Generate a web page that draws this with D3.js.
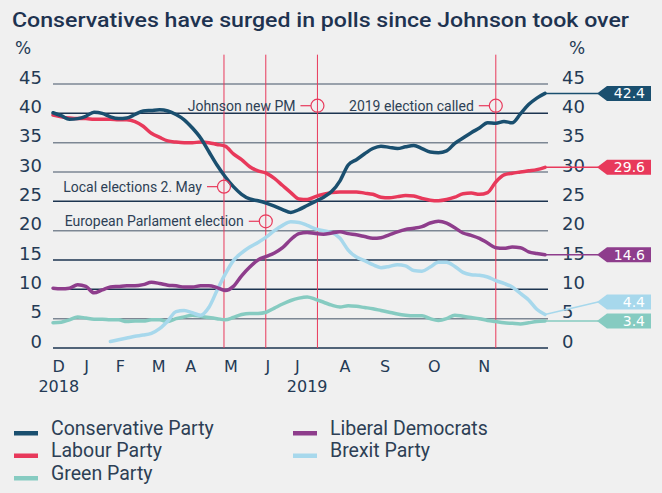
<!DOCTYPE html>
<html>
<head>
<meta charset="utf-8">
<script src="https://cdn.jsdelivr.net/npm/d3@7"></script>
<style>
  html, body { margin: 0; padding: 0; background: #f0f0f0; }
  svg { display: block; }
  text { fill: #243a55; }
</style>
</head>
<body>
<svg id="chart" width="662" height="493"></svg>
<script>
// Poll averages, one point per sample step (Dec 2018 -> early Dec 2019)
const conservative = [40.1, 39.6, 39.0, 39.1, 39.5, 40.2, 40.0, 39.4, 39.1, 39.2, 39.8, 40.4, 40.5, 40.6, 40.4, 39.8,
  38.9, 37.5, 35.8, 33.5, 31.2, 29.2, 27.5, 26.2, 25.4, 25.1, 24.7, 24.2, 23.6, 23.1, 23.6, 24.3, 25.0, 25.7, 26.7,
  28.5, 31.2, 32.1, 33.1, 34.0, 34.4, 34.2, 34.0, 34.3, 34.5, 34.0, 33.4, 33.3, 33.6, 34.9, 35.8, 36.7, 37.5, 38.4,
  38.3, 38.6, 38.4, 39.9, 41.5, 42.6, 43.4];
const labour = [39.7, 39.4, 39.2, 39.1, 39.1, 39.0, 39.0, 39.0, 38.9, 38.9, 38.6, 37.8, 36.6, 35.9, 35.3, 35.1,
  35.0, 35.0, 35.1, 35.0, 34.7, 34.4, 33.1, 32.1, 30.9, 30.2, 29.8, 28.9, 27.7, 26.5, 25.4, 25.3, 25.8, 26.2, 26.5,
  26.6, 26.6, 26.6, 26.4, 26.2, 25.7, 25.6, 25.8, 26.0, 25.9, 25.5, 25.2, 25.1, 25.3, 25.7, 26.3, 26.4, 26.2, 26.5,
  28.3, 29.5, 29.8, 30.0, 30.2, 30.4, 30.8];
const libDems = [10.2, 10.1, 10.2, 10.8, 10.5, 9.4, 9.9, 10.4, 10.5, 10.6, 10.6, 10.8, 11.2, 11.0, 10.7, 10.6,
  10.4, 10.4, 10.6, 10.6, 10.3, 9.8, 10.5, 12.3, 13.8, 15.0, 15.6, 16.2, 17.1, 18.5, 19.5, 19.7, 19.5, 19.4, 19.6,
  19.8, 19.5, 19.3, 19.0, 18.7, 18.8, 19.3, 19.8, 20.2, 20.4, 20.7, 21.3, 21.6, 21.3, 20.5, 19.6, 19.2, 18.7, 17.9,
  17.1, 17.0, 17.2, 17.1, 16.4, 16.1, 15.9];
const brexit = [null, null, null, null, null, null, null, 1.1, 1.4, 1.7, 2.0, 2.2, 2.5, 3.3, 4.6, 6.2,
  6.4, 6.0, 5.6, 6.9, 9.8, 12.6, 14.9, 16.2, 17.2, 18.0, 18.9, 20.0, 20.9, 21.5, 21.4, 20.9, 20.3, 20.0, 19.7,
  18.7, 16.7, 15.5, 14.9, 14.2, 13.7, 13.9, 14.2, 14.0, 13.2, 13.1, 13.8, 14.6, 14.6, 13.9, 12.9, 12.5, 12.4, 12.1,
  11.5, 11.0, 10.4, 9.3, 8.2, 6.6, 5.7];
const green = [4.3, 4.4, 4.8, 5.3, 5.1, 4.9, 4.9, 4.8, 4.8, 4.5, 4.6, 4.6, 4.8, 4.8, 4.5, 5.0,
  5.3, 5.6, 5.4, 5.2, 5.0, 4.8, 5.2, 5.7, 5.9, 5.9, 6.1, 6.8, 7.5, 8.1, 8.5, 8.7, 8.3, 7.8, 7.3,
  7.0, 7.2, 7.1, 6.9, 6.7, 6.4, 6.1, 5.8, 5.6, 5.5, 5.5, 5.0, 4.7, 5.0, 5.6, 5.4, 5.2, 5.0, 4.7,
  4.5, 4.3, 4.2, 4.1, 4.3, 4.5, 4.6];

const partyNames = ["Conservative Party", "Labour Party", "Green Party", "Liberal Democrats", "Brexit Party"];
const partyColors = ["#1a4f6f", "#e8395b", "#86cbc1", "#8e3d8c", "#a7d8ec"];
const partyValues = [conservative, labour, green, libDems, brexit];
const latest = ["42.4", "29.6", "3.4", "14.6", "4.4"];

const months = ["D", "J", "F", "M", "A", "M", "J", "J", "A", "S", "O", "N"];
const monthAt = [0.7, 4.1, 8.2, 12.9, 16.8, 21.7, 26.2, 29.8, 35.6, 40.5, 46.5, 52.6];
const years = ["2018", "2019"];
const yearAt = [0.7, 31.0];

const yTicks = [0, 5, 10, 15, 20, 25, 30, 35, 40, 45];
const darkTicks = [0, 10, 15, 25, 40];

// events: position on the sample axis, label, height of the marker (in %)
const eventAt = [20.85, 25.95, 32.25, 54.0];
const eventText = ["Local elections 2. May", "European Parlament election", "Johnson new PM", "2019 election called"];
const eventLevel = [27.5, 21.6, 41.3, 41.3];

const svg = d3.select("#chart");
const font = "Roboto, 'DejaVu Sans', sans-serif";
const numFont = "'DejaVu Sans', sans-serif";

const x = d3.scaleLinear().domain([0, conservative.length - 1]).range([53, 545]);
const y = d3.scaleLinear().domain([0, 45]).range([348, 84]);

// title
svg.append("text")
  .attr("x", 12).attr("y", 27)
  .attr("font-family", font).attr("font-weight", 500).attr("font-size", 21)
  .attr("textLength", 617).attr("lengthAdjust", "spacingAndGlyphs")
  .style("fill", "#1e3350")
  .text("Conservatives have surged in polls since Johnson took over");

// grid lines
svg.append("g")
  .selectAll("line")
  .data(yTicks)
  .join("line")
  .attr("x1", 53).attr("x2", 548)
  .attr("y1", d => y(d)).attr("y2", d => y(d))
  .attr("stroke", d => darkTicks.includes(d) ? "#1c3450" : "#7d8794")
  .attr("stroke-width", 1.5);

// axis labels both sides
const leftAxis = svg.append("g").attr("transform", "translate(42,0)")
  .call(d3.axisLeft(y).tickValues(yTicks).tickSize(0).tickPadding(0));
const rightAxis = svg.append("g").attr("transform", "translate(562,0)")
  .call(d3.axisRight(y).tickValues(yTicks).tickSize(0).tickPadding(0));
[leftAxis, rightAxis].forEach(a => {
  a.select(".domain").remove();
  a.selectAll("text")
    .attr("font-family", numFont).attr("font-size", 18)
    .attr("dy", "-0.05em")
    .style("fill", "#243a55");
});
svg.append("text").attr("x", 15).attr("y", 54)
  .attr("font-family", numFont).attr("font-size", 17).text("%");
svg.append("text").attr("x", 569).attr("y", 54)
  .attr("font-family", numFont).attr("font-size", 17).text("%");

// month & year labels
svg.append("g")
  .selectAll("text")
  .data(months)
  .join("text")
  .attr("x", (d, i) => x(monthAt[i]))
  .attr("y", 372)
  .attr("text-anchor", "middle")
  .attr("font-family", numFont).attr("font-size", 16)
  .text(d => d);
svg.append("g")
  .selectAll("text")
  .data(years)
  .join("text")
  .attr("x", (d, i) => x(yearAt[i]))
  .attr("y", 392)
  .attr("text-anchor", "middle")
  .attr("font-family", numFont).attr("font-size", 16)
  .text(d => d);

// event lines
svg.append("g")
  .selectAll("line")
  .data(eventAt)
  .join("line")
  .attr("x1", d => x(d)).attr("x2", d => x(d))
  .attr("y1", y(50)).attr("y2", y(0))
  .attr("stroke", "#e8395b").attr("stroke-width", 1);

// series
const line = d3.line()
  .defined(d => d != null)
  .x((d, i) => x(i))
  .y(d => y(d))
  .curve(d3.curveMonotoneX);

const drawOrder = [2, 4, 3, 1, 0];
svg.append("g")
  .selectAll("path")
  .data(drawOrder)
  .join("path")
  .attr("d", k => line(partyValues[k]))
  .attr("fill", "none")
  .attr("stroke", k => partyColors[k])
  .attr("stroke-width", 3.5)
  .attr("stroke-linejoin", "round")
  .attr("stroke-linecap", "round");

// event markers (on top of lines)
const ev = svg.append("g").selectAll("g")
  .data(eventAt)
  .join("g")
  .attr("transform", (d, i) => `translate(${x(d)},${y(eventLevel[i])})`);
ev.append("line")
  .attr("x1", -17).attr("x2", -6.5)
  .attr("stroke", "#e8395b").attr("stroke-width", 1.2);
ev.append("circle")
  .attr("r", 6.5)
  .attr("fill", "none")
  .attr("stroke", "#e8395b").attr("stroke-width", 1.2);
ev.append("text")
  .attr("x", -22).attr("dy", "0.35em")
  .attr("text-anchor", "end")
  .attr("font-family", font).attr("font-size", 14)
  .style("fill", "#2d3f55")
  .text((d, i) => eventText[i]);

// end tags, pushed apart so they don't overlap
const last = partyValues.map(v => v[v.length - 1]);
const tags = last.map((v, k) => ({ k, y0: y(v), y: y(v) }))
  .sort((a, b) => b.y - a.y);
for (let i = 1; i < tags.length; i++) {
  if (tags[i - 1].y - tags[i].y < 19) tags[i].y = tags[i - 1].y - 19;
}
const tag = svg.append("g").selectAll("g")
  .data(tags)
  .join("g");
tag.append("line")
  .attr("x1", x(conservative.length - 1)).attr("x2", 598)
  .attr("y1", d => d.y0).attr("y2", d => d.y)
  .attr("stroke", d => partyColors[d.k]).attr("stroke-width", 1.5);
tag.append("path")
  .attr("d", d => `M597,${d.y} L607,${d.y - 7.5} L651,${d.y - 7.5} L651,${d.y + 7.5} L607,${d.y + 7.5} Z`)
  .attr("fill", d => partyColors[d.k]);
tag.append("text")
  .attr("x", 645).attr("y", d => d.y)
  .attr("dy", "0.36em")
  .attr("text-anchor", "end")
  .attr("font-family", numFont).attr("font-size", 14)
  .style("fill", "#ffffff")
  .text(d => latest[d.k]);

// legend
const legend = svg.append("g").selectAll("g")
  .data(partyNames)
  .join("g")
  .attr("transform", (d, i) => `translate(${i < 3 ? 14 : 293},${433 + (i % 3) * 22.5})`);
legend.append("rect")
  .attr("y", -2).attr("width", 24).attr("height", 4.5)
  .attr("fill", (d, i) => partyColors[i]);
legend.append("text")
  .attr("x", 37).attr("y", -5)
  .attr("dy", "0.35em")
  .attr("font-family", font).attr("font-size", 19.5)
  .style("fill", "#2d3f55")
  .text(d => d);
</script>
</body>
</html>
